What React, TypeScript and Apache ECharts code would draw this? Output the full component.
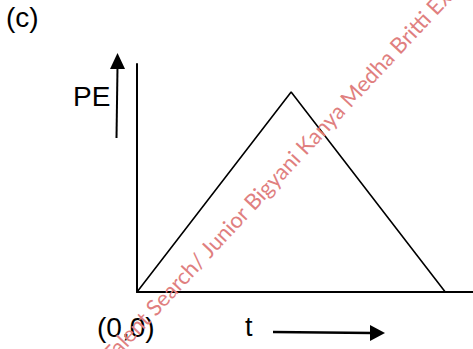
import React, { useEffect, useRef } from "react";
import * as echarts from "echarts";

// Data: time vs potential energy (triangle)
const times = [0, 5, 10];
const pe = [0, 1, 0];

// Labels
const panelLabel = "(c)";
const yLabel = "PE";
const xLabel = "t";
const originLabel = "(0,0)";
const watermark = "Talent Search/ Junior Bigyani Kanya Medha Britti Examination";

const FONT = "'Liberation Sans', Arial, sans-serif";

export default function App() {
  const ref = useRef<HTMLDivElement>(null);

  useEffect(() => {
    const chart = echarts.init(ref.current!, null, { renderer: "svg" });
    const ang = (47 * Math.PI) / 180;
    chart.setOption({
      animation: false,
      grid: { left: 137, right: 0, top: 64, bottom: 57, containLabel: false },
      xAxis: {
        type: "value",
        min: 0,
        max: 10.9,
        axisLine: { show: true, onZero: false, lineStyle: { color: "#000", width: 2 } },
        axisTick: { show: false },
        axisLabel: { show: false },
        splitLine: { show: false },
      },
      yAxis: {
        type: "value",
        min: 0,
        max: 1.14,
        axisLine: { show: true, onZero: false, lineStyle: { color: "#000", width: 2 } },
        axisTick: { show: false },
        axisLabel: { show: false },
        splitLine: { show: false },
      },
      series: [
        {
          type: "line",
          data: times.map((t, i) => [t, pe[i]]),
          symbol: "none",
          lineStyle: { color: "#000", width: 1.6 },
          z: 3,
        },
      ],
      graphic: [
        {
          type: "text",
          x: 6,
          y: 17,
          style: { text: panelLabel, font: `28px ${FONT}`, fill: "#000", align: "left", verticalAlign: "middle", textAlign: "left", textVerticalAlign: "middle" },
        },
        {
          type: "text",
          x: 73,
          y: 96,
          style: { text: yLabel, font: `28px ${FONT}`, fill: "#000", align: "left", verticalAlign: "middle", textAlign: "left", textVerticalAlign: "middle" },
        },
        {
          type: "line",
          shape: { x1: 116.5, y1: 138, x2: 117.5, y2: 67 },
          style: { stroke: "#000", lineWidth: 2 },
        },
        {
          type: "polygon",
          shape: { points: [[110, 69], [125, 69], [117.5, 53]] },
          style: { fill: "#000" },
        },
        {
          type: "text",
          x: 97,
          y: 327,
          style: { text: originLabel, font: `28px ${FONT}`, fill: "#000", align: "left", verticalAlign: "middle", textAlign: "left", textVerticalAlign: "middle" },
        },
        {
          type: "text",
          x: 245,
          y: 327,
          style: { text: xLabel, font: `27px ${FONT}`, fill: "#000", align: "left", verticalAlign: "middle", textAlign: "left", textVerticalAlign: "middle" },
        },
        {
          type: "line",
          shape: { x1: 273, y1: 332, x2: 372, y2: 333 },
          style: { stroke: "#000", lineWidth: 2.5 },
        },
        {
          type: "polygon",
          shape: { points: [[370, 325], [370, 341], [385, 333]] },
          style: { fill: "#000" },
        },
        {
          type: "text",
          x: 106,
          y: 358,
          rotation: ang,
          z: 100,
          style: { text: watermark, font: `22px Lato, 'Open Sans', sans-serif`, fill: "#e07f7f", align: "left", verticalAlign: "middle", textAlign: "left", textVerticalAlign: "middle" },
        },
      ],
    });
    return () => chart.dispose();
  }, []);

  return <div ref={ref} style={{ position: "absolute", left: 0, top: 0, width: 473, height: 349 }} />;
}
